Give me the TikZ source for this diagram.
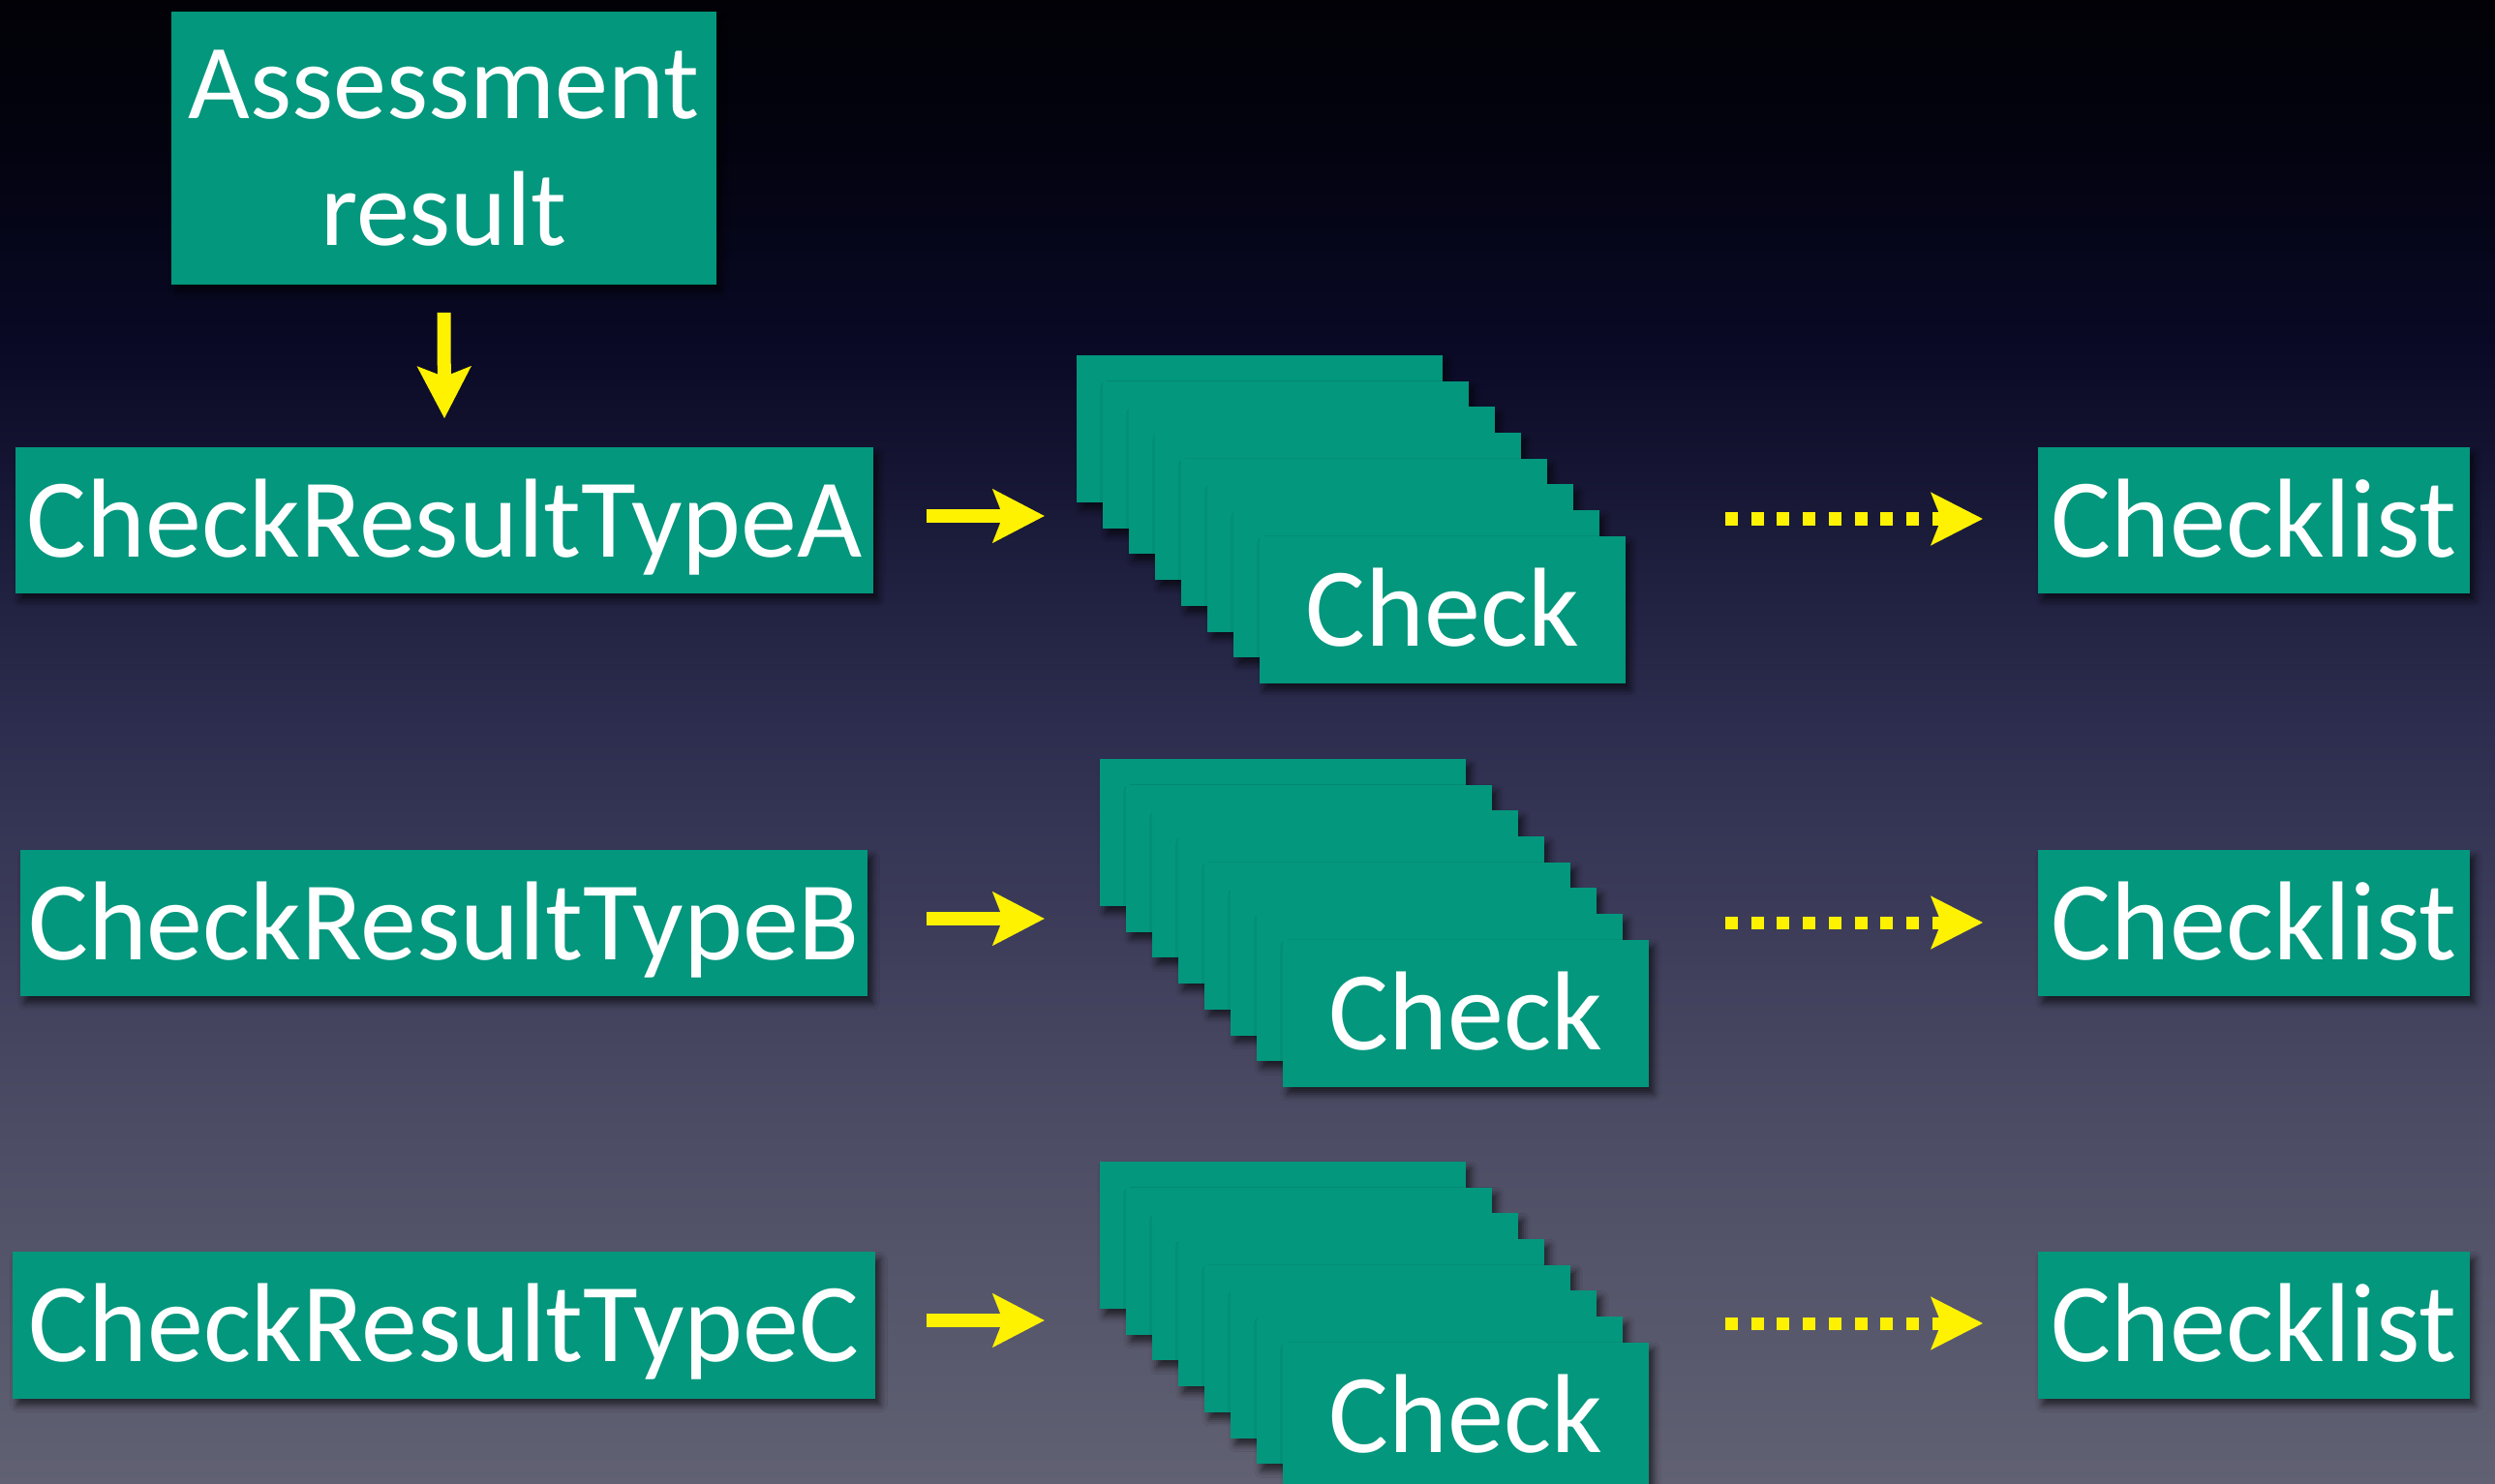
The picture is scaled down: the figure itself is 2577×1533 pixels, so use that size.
\documentclass[tikz,border=0pt]{standalone}
\usepackage{fontspec}
\setmainfont{Carlito}
\usetikzlibrary{arrows.meta,shadows.blur,calc}
\definecolor{boxgreen}{RGB}{3,151,125}
\definecolor{arrowyellow}{RGB}{255,242,0}
\pgfdeclareverticalshading{bgshade}{100bp}{%
  rgb(0bp)=(0.380,0.380,0.451);
  rgb(25bp)=(0.380,0.380,0.451);
  rgb(37.5bp)=(0.294,0.294,0.392);
  rgb(50.5bp)=(0.176,0.176,0.310);
  rgb(63.6bp)=(0.035,0.035,0.145);
  rgb(70bp)=(0.012,0.012,0.063);
  rgb(75bp)=(0.005,0.005,0.025);
  rgb(100bp)=(0.005,0.005,0.025)}
\begin{document}
\begin{tikzpicture}[x=0.01cm,y=-0.01cm,
  gbox/.style={fill=boxgreen, draw=none, inner sep=0pt, text=white,
    font=\fontsize{33}{37.3}\selectfont,
    blur shadow={shadow xshift=0.05cm, shadow yshift=-0.07cm, shadow blur radius=0.07cm, shadow opacity=60}},
  oneline/.style={text height=0.75cm, text depth=0pt},
  stackbox/.style={gbox, minimum width=3.78cm, minimum height=1.52cm},
  solidarrow/.style={draw=arrowyellow, line width=0.14cm,
    -{Stealth[length=0.53cm, width=0.54cm, inset=0.1cm]}},
  dotarrow/.style={draw=arrowyellow, line width=0.13cm, dash pattern=on 0.13cm off 0.137cm,
    -{Stealth[length=0.53cm, width=0.53cm, inset=0.1cm]}}
]
\useasboundingbox (0,0) rectangle (2577,1533);
\clip (0,0) rectangle (2577,1533);
\shade[shading=bgshade] (0,0) rectangle (2577,1533);

% left column
\node[gbox, align=center, font=\fontsize{31.3}{37.3}\selectfont, minimum width=5.63cm, minimum height=2.82cm] (assess) at (458.5,153) {Assessment\\result};
\node[gbox, oneline, minimum width=8.86cm, minimum height=1.51cm] (typeA) at (459,537.5) {CheckResultTypeA};
\node[gbox, oneline, minimum width=8.75cm, minimum height=1.51cm] (typeB) at (458.5,953.5) {CheckResultTypeB};
\node[gbox, oneline, minimum width=8.91cm, minimum height=1.51cm] (typeC) at (458.5,1369) {CheckResultTypeC};

% right column
\node[gbox, oneline, minimum width=4.46cm, minimum height=1.51cm] (listA) at (2328,537.5) {Checklist};
\node[gbox, oneline, minimum width=4.46cm, minimum height=1.51cm] (listB) at (2328,953.5) {Checklist};
\node[gbox, oneline, minimum width=4.46cm, minimum height=1.51cm] (listC) at (2328,1369) {Checklist};

% stacks
\foreach \i in {0,...,6} {\node[stackbox] (sa\i) at ({1301+27*\i},{443+26.7*\i}) {};}
\node[stackbox, oneline] (sa7) at (1490,630) {Check};
\foreach \i in {0,...,6} {\node[stackbox] (sb\i) at ({1325+27*\i},{860+26.7*\i}) {};}
\node[stackbox, oneline] (sb7) at (1514,1047) {Check};
\foreach \i in {0,...,6} {\node[stackbox] (sc\i) at ({1325+27*\i},{1276+26.7*\i}) {};}
\node[stackbox, oneline] (sc7) at (1514,1463) {Check};

% arrow end coordinates
\coordinate (tipA) at (1079,533);
\coordinate (tipB) at (1079,949);
\coordinate (tipC) at (1079,1364);
\coordinate (dotA) at (1782,536);
\coordinate (dotB) at (1782,953);
\coordinate (dotC) at (1782,1367);

% arrows
\draw[solidarrow] ($(assess.south)+(0,28)$) -- ($(typeA.north)+(0,-29)$);
\draw[solidarrow] ($(typeA.east)+(54,-4.5)$) -- (tipA);
\draw[solidarrow] ($(typeB.east)+(60,-4.5)$) -- (tipB);
\draw[solidarrow] ($(typeC.east)+(52,-5)$) -- (tipC);
\draw[dotarrow] (dotA) -- ($(listA.west)+(-56,-1.5)$);
\draw[dotarrow] (dotB) -- ($(listB.west)+(-56,-0.5)$);
\draw[dotarrow] (dotC) -- ($(listC.west)+(-56,-2)$);
\end{tikzpicture}
\end{document}
